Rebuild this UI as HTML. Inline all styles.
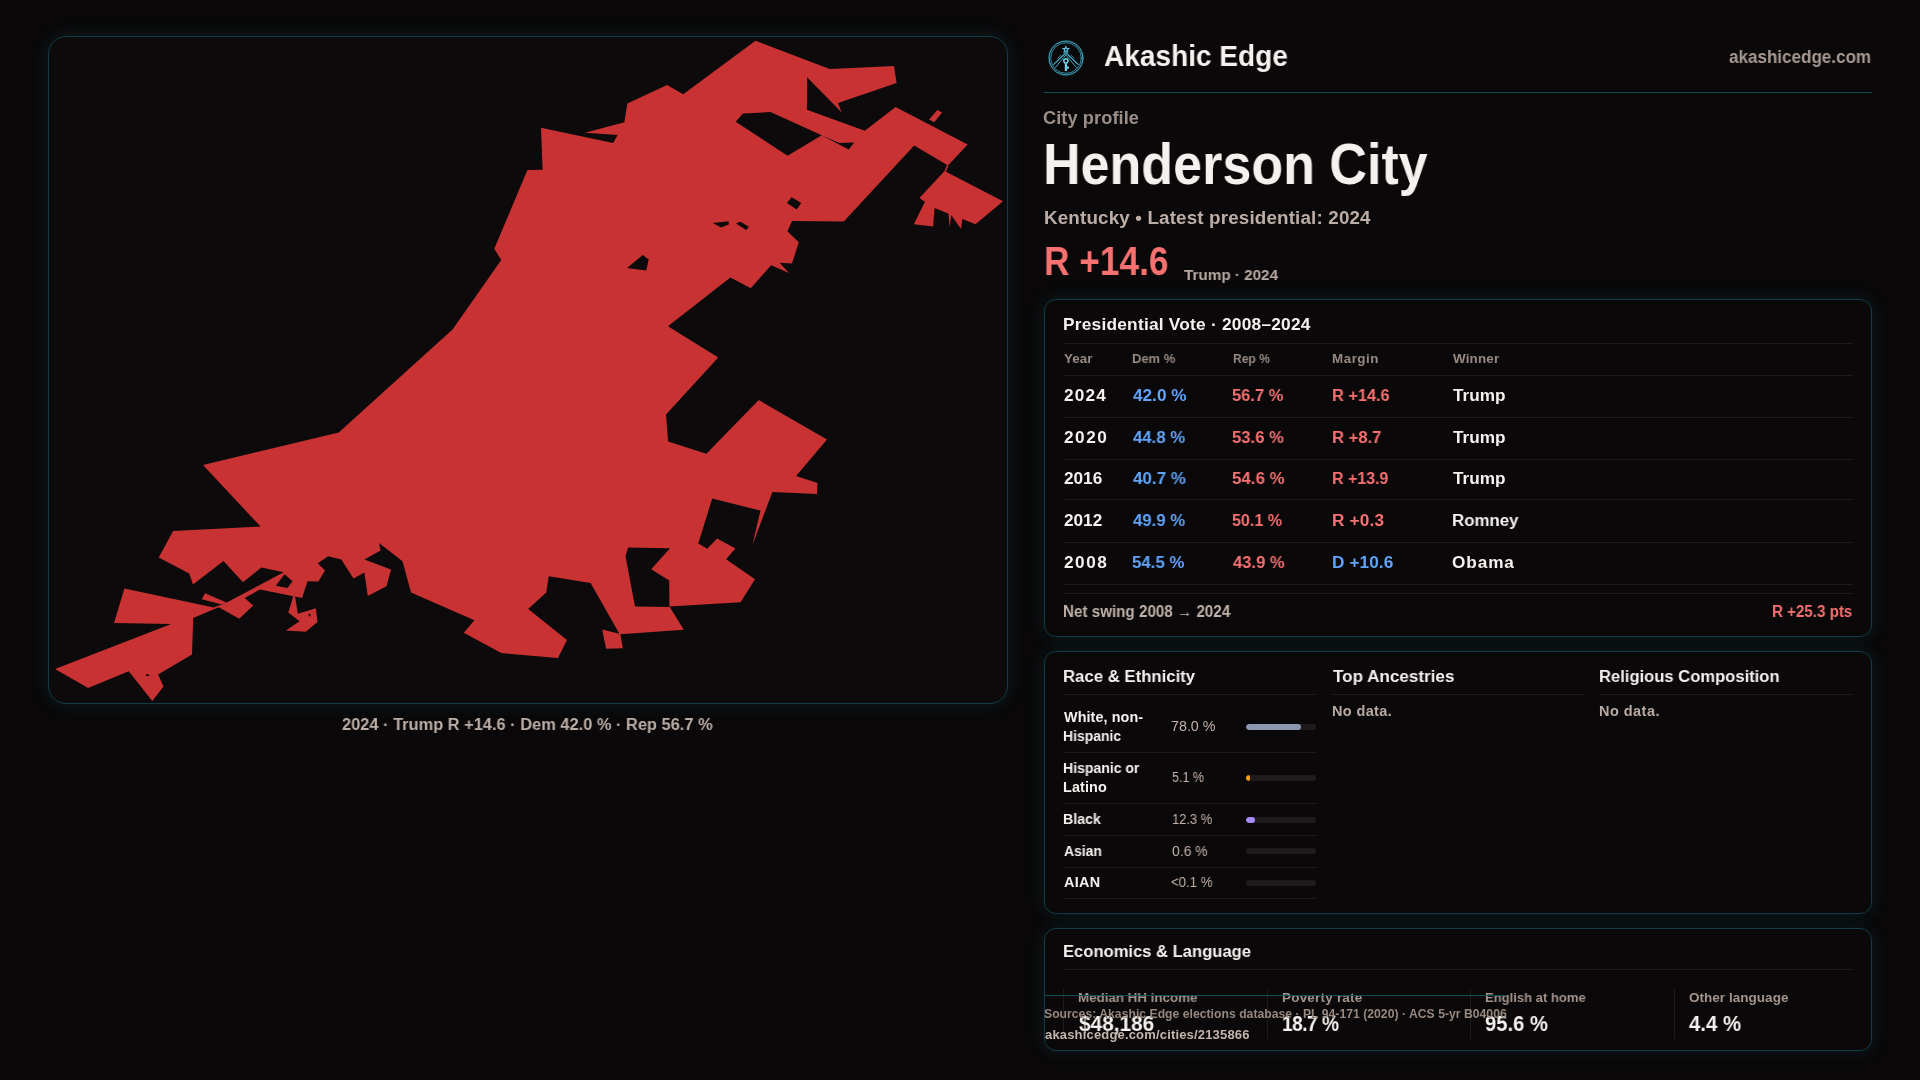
<!DOCTYPE html>
<html><head><meta charset="utf-8"><title>Henderson City — City profile</title>
<style>
html,body{margin:0;padding:0;background:#0a0809;}
body{width:1920px;height:1080px;position:relative;overflow:hidden;font-family:"Liberation Sans",sans-serif;}
.t{position:absolute;line-height:1;white-space:nowrap;transform-origin:0 0;will-change:transform;}
.l{position:absolute;height:1px;}
.card{position:absolute;box-sizing:border-box;border:1px solid #113c49;border-radius:12px;background:#0c0a0b;box-shadow:0 0 18px rgba(20,100,115,0.22);}
.bar{position:absolute;left:1246px;width:70px;height:6px;border-radius:3px;background:#1d1b1d;overflow:hidden;}
.bar i{display:block;height:6px;border-radius:3px;}
svg{position:absolute;left:0;top:0;}
</style></head><body>
<div class="card" style="left:48px;top:36px;width:960px;height:668px;border-radius:18px;"></div>
<div class="card" style="left:1044px;top:299px;width:828px;height:338px;background:#0a0809;"></div>
<div class="card" style="left:1044px;top:651px;width:828px;height:263px;background:#0a0809;"></div>
<div class="card" style="left:1044px;top:928px;width:828px;height:123px;background:#0a0809;"></div>
<svg width="1920" height="1080" viewBox="0 0 1920 1080">
<path fill="#c83232" fill-rule="evenodd" d="M755.5 40.75 L829.75 69 L894 66 L896.6 82.9 L838 103 L841.7 112.5 L807.1 77.3 L806.9 109.7 L864.8 130.8 L895.6 106.9 L967.7 144.4 L948 165.5 L914.2 145.6 L843.8 221.6 L792.1 221.1 L787.4 231.3 L798.8 242.3 L792 263.5 L779.6 262.7 L789 273 L771.2 265.2 L750.8 288.2 L730.4 277.5 L668 326.25 L718.25 357.5 L666 414.4 L668.1 441.4 L706.4 453.75 L758.75 400 L827 439.6 L796.1 475.9 L817.5 483.1 L817 493.9 L772.4 492 L752.4 545 L760.5 510.6 L712.2 498.5 L698.3 543.4 L707.2 548.7 L717.2 538.4 L735.4 548.5 L726.1 559.3 L755 579.3 L740.6 602.2 L669.4 606.5 L669.2 580.6 L651.2 569.3 L670 548.2 L628.2 547.4 L625.5 556.2 L635 606.5 L669.8 607.1 L683.8 629.8 L620.3 634.3 L622.9 648.3 L606.1 648.8 L602.2 629.4 L619.4 633.8 L590.6 582.9 L548.75 576.25 L546.25 592.5 L528.2 608.9 L567 640 L558 658 L501.25 653.1 L463.75 632.75 L474.4 620.25 L411 592.5 L402.5 561.25 L379 542.9 L380.6 550.6 L364.4 559.4 L391 569.4 L386.5 586.25 L367.75 595.9 L364.4 572.5 L353.5 578.5 L341.25 559.4 L328.1 556.25 L317.75 563.3 L325 570.5 L318.4 581.5 L307.5 581.25 L302.1 597.9 L260 589.6 L244.6 597.9 L253.3 605.4 L239.2 618.75 L218.75 607.2 L193.2 618 L192 654.4 L158.1 674.4 L163.5 686.5 L152.25 701 L128.75 671.25 L88.1 688.1 L55 669 L171.25 624 L114.1 622.9 L124.4 588.6 L213.75 607.5 L221.7 604.6 L226.7 602.5 L283.75 572.2 L261.25 567.6 L243 582.2 L223.5 561.1 L193 584.5 L189.2 573.4 L158.75 557.5 L173.1 531 L260.6 526.6 L203 465 L338.75 432.5 L452.5 329.5 L501.25 260 L494.25 248.75 L527.4 170.1 L542.6 169.7 L541 127.7 L613.1 143.1 L617.6 135 L585 132.8 L624.4 122.2 L627.3 103.4 L667.1 85 L683.2 94.3Z M735.7 121.8 L743 113.4 L770.5 112.1 L821.7 135.2 L787.6 155.7Z M821.9 135.4 L839.4 143.1 L854.2 142.6 L848.7 149.4Z M786.9 203 L791.6 197.3 L801.3 203 L796.7 209.5Z M712.9 223.1 L728.7 221.3 L728.8 224.4 L721 227.4Z M736 223.5 L740.3 221.7 L748.9 226.7 L746.2 230Z M627 268 L642.8 255 L648.75 259.5 L646.25 270.5Z M275.8 585.8 L284.6 574.3 L292.5 581.25 L287.5 587.9Z"/>
<path fill="#c83232" fill-rule="evenodd" d="M205 593.3 L226.7 602.5 L221.7 604.6 L201.8 599.2Z M293.3 596 L288.3 612.5 L299.6 621.25 L285.8 630.4 L305.8 631.7 L317.5 622.1 L315.8 608.3 L297.9 613.75 L295 596.3Z M929 119.6 L937.5 110 L942.1 112.4 L934.2 122.3Z M947 165 L948.5 165.7 L946 171.6 L944.6 170.9Z M944.6 170.9 L1003 201.2 L975.5 224.3 L962.4 219.1 L961 229.1 L951.2 215 L949.6 227.4 L948.6 213.7 L934.6 208 L933.1 226.5 L913.8 224.3 L925 201.8 L919.4 198Z"/>
<ellipse cx="309.6" cy="615" rx="0.9" ry="1.5" fill="#0c0a0b"/>
<ellipse cx="147.5" cy="675.2" rx="1.8" ry="0.9" fill="#0c0a0b"/>
<g fill="none" stroke="#43b4d0" stroke-linecap="round">
<circle cx="1066" cy="58" r="16.4" stroke-width="3.4" opacity="0.16"/>
<circle cx="1066" cy="58" r="16.9" stroke-width="1" opacity="0.95"/>
<circle cx="1066" cy="58" r="15.3" stroke-width="0.8" opacity="0.8"/>
<path d="M1065.9 52.8 L1053.7 64.4 M1065.9 52.8 L1078.1 64.4" stroke-width="1.2"/>
<path d="M1065.9 55 L1055.6 67.2 M1065.9 55 L1076.2 67.2" stroke-width="1" opacity="0.9"/>
<path d="M1060.7 55.2 L1057.6 58.3 M1071.1 55.2 L1074.2 58.3" stroke-width="0.9" opacity="0.7"/>
<circle cx="1065.9" cy="60.9" r="2.05" stroke-width="1.5" stroke="#6fd3e8"/>
<path d="M1065.9 63.4 L1065.9 71" stroke-width="2.2" stroke="#6fd3e8" stroke-linecap="butt"/>
<path d="M1066.9 67.6 L1068.9 67.6" stroke-width="2.4" stroke="#6fd3e8" stroke-linecap="butt"/>
</g>
<polygon points="1065.90,45.00 1067.02,47.96 1070.18,48.11 1067.71,50.09 1068.55,53.14 1065.90,51.40 1063.25,53.14 1064.09,50.09 1061.62,48.11 1064.78,47.96" fill="#55c4de"/>
<circle cx="1065.9" cy="49.7" r="1" fill="#0a0809"/>
</svg>
<div class="l" style="left:1044px;top:92px;width:828px;background:#0f4856"></div>
<div class="l" style="left:1063px;top:343px;width:790px;background:#1e1b1d"></div>
<div class="l" style="left:1063px;top:375px;width:790px;background:#1e1b1d"></div>
<div class="l" style="left:1063px;top:417px;width:790px;background:#1e1b1d"></div>
<div class="l" style="left:1063px;top:459px;width:790px;background:#1e1b1d"></div>
<div class="l" style="left:1063px;top:499px;width:790px;background:#1e1b1d"></div>
<div class="l" style="left:1063px;top:542px;width:790px;background:#1e1b1d"></div>
<div class="l" style="left:1063px;top:584px;width:790px;background:#1e1b1d"></div>
<div class="l" style="left:1063px;top:593px;width:790px;background:#1e1b1d"></div>
<div class="l" style="left:1063px;top:694px;width:253px;background:#1e1b1d"></div>
<div class="l" style="left:1332px;top:694px;width:252px;background:#1e1b1d"></div>
<div class="l" style="left:1600px;top:694px;width:253px;background:#1e1b1d"></div>
<div class="l" style="left:1063px;top:752px;width:253px;background:#1e1b1d"></div>
<div class="l" style="left:1063px;top:803px;width:253px;background:#1e1b1d"></div>
<div class="l" style="left:1063px;top:835px;width:253px;background:#1e1b1d"></div>
<div class="l" style="left:1063px;top:867px;width:253px;background:#1e1b1d"></div>
<div class="l" style="left:1063px;top:898px;width:253px;background:#1e1b1d"></div>
<div class="l" style="left:1063px;top:969px;width:790px;background:#1e1b1d"></div>
<div class="l" style="left:1063px;top:989px;width:1px;height:50px;background:#1e1b1d"></div>
<div class="l" style="left:1267px;top:989px;width:1px;height:50px;background:#1e1b1d"></div>
<div class="l" style="left:1470px;top:989px;width:1px;height:50px;background:#1e1b1d"></div>
<div class="l" style="left:1674px;top:989px;width:1px;height:50px;background:#1e1b1d"></div>
<div class="bar" style="top:724px"><i style="width:54.60px;background:#8c98af"></i></div>
<div class="bar" style="top:775px"><i style="width:3.57px;background:#f59e0b"></i></div>
<div class="bar" style="top:816.5px"><i style="width:8.61px;background:#a78bfa"></i></div>
<div class="bar" style="top:848px"><i style="width:0.00px;background:#94a3b8"></i></div>
<div class="bar" style="top:879.5px"><i style="width:0.00px;background:#94a3b8"></i></div>
<div class="t" style="left:1103.97px;top:40.80px;font-size:30.3px;font-weight:700;color:#f4f1ef;transform:scaleX(0.9259);">Akashic Edge</div>
<div class="t" style="left:1729.20px;top:49.34px;font-size:17.5px;font-weight:700;color:#a89a93;transform:scaleX(0.9738);">akashicedge.com</div>
<div class="t" style="left:1043.40px;top:108.54px;font-size:18.2px;font-weight:700;color:#9c8f89;letter-spacing:0.091px;">City profile</div>
<div class="t" style="left:1043.38px;top:135.79px;font-size:57.6px;font-weight:700;color:#f4f1ef;transform:scaleX(0.9038);">Henderson City</div>
<div class="t" style="left:1044.00px;top:208.54px;font-size:18.8px;font-weight:700;color:#bcaea7;letter-spacing:0.166px;">Kentucky • Latest presidential: 2024</div>
<div class="t" style="left:1043.87px;top:241.54px;font-size:40.3px;font-weight:700;color:#f87171;transform:scaleX(0.8754);">R +14.6</div>
<div class="t" style="left:1183.90px;top:267.21px;font-size:15.4px;font-weight:700;color:#b8aaa3;transform:scaleX(0.9905);">Trump · 2024</div>
<div class="t" style="left:1062.60px;top:316.01px;font-size:17.3px;font-weight:700;color:#f4f1ef;letter-spacing:0.236px;">Presidential Vote · 2008–2024</div>
<div class="t" style="left:1063.60px;top:352.21px;font-size:13.4px;font-weight:700;color:#978a84;letter-spacing:0.067px;">Year</div>
<div class="t" style="left:1132.43px;top:352.21px;font-size:13.4px;font-weight:700;color:#978a84;transform:scaleX(0.9674);">Dem %</div>
<div class="t" style="left:1232.50px;top:352.21px;font-size:13.4px;font-weight:700;color:#978a84;transform:scaleX(0.9025);">Rep %</div>
<div class="t" style="left:1332.40px;top:352.21px;font-size:13.4px;font-weight:700;color:#978a84;letter-spacing:0.520px;">Margin</div>
<div class="t" style="left:1453.40px;top:352.21px;font-size:13.4px;font-weight:700;color:#978a84;letter-spacing:0.170px;">Winner</div>
<div class="t" style="left:1063.60px;top:387.39px;font-size:17.2px;font-weight:700;color:#f4f1ef;letter-spacing:1.167px;">2024</div>
<div class="t" style="left:1133.40px;top:387.39px;font-size:17.2px;font-weight:700;color:#60a5fa;transform:scaleX(0.9972);">42.0 %</div>
<div class="t" style="left:1232.44px;top:387.39px;font-size:17.2px;font-weight:700;color:#f87171;transform:scaleX(0.9587);">56.7 %</div>
<div class="t" style="left:1332.45px;top:387.39px;font-size:17.2px;font-weight:700;color:#f87171;transform:scaleX(0.9508);">R +14.6</div>
<div class="t" style="left:1453.40px;top:387.39px;font-size:17.2px;font-weight:700;color:#f4f1ef;letter-spacing:0.025px;">Trump</div>
<div class="t" style="left:1063.60px;top:429.19px;font-size:17.2px;font-weight:700;color:#f4f1ef;letter-spacing:1.550px;">2020</div>
<div class="t" style="left:1133.40px;top:429.19px;font-size:17.2px;font-weight:700;color:#60a5fa;transform:scaleX(0.9736);">44.8 %</div>
<div class="t" style="left:1232.43px;top:429.19px;font-size:17.2px;font-weight:700;color:#f87171;transform:scaleX(0.9683);">53.6 %</div>
<div class="t" style="left:1332.43px;top:429.19px;font-size:17.2px;font-weight:700;color:#f87171;transform:scaleX(0.9670);">R +8.7</div>
<div class="t" style="left:1453.40px;top:429.19px;font-size:17.2px;font-weight:700;color:#f4f1ef;letter-spacing:0.025px;">Trump</div>
<div class="t" style="left:1063.60px;top:469.99px;font-size:17.2px;font-weight:700;color:#f4f1ef;transform:scaleX(0.9908);">2016</div>
<div class="t" style="left:1133.40px;top:469.99px;font-size:17.2px;font-weight:700;color:#60a5fa;transform:scaleX(0.9877);">40.7 %</div>
<div class="t" style="left:1232.42px;top:469.99px;font-size:17.2px;font-weight:700;color:#f87171;transform:scaleX(0.9827);">54.6 %</div>
<div class="t" style="left:1332.47px;top:469.99px;font-size:17.2px;font-weight:700;color:#f87171;transform:scaleX(0.9297);">R +13.9</div>
<div class="t" style="left:1453.40px;top:469.99px;font-size:17.2px;font-weight:700;color:#f4f1ef;letter-spacing:0.025px;">Trump</div>
<div class="t" style="left:1063.60px;top:511.99px;font-size:17.2px;font-weight:700;color:#f4f1ef;transform:scaleX(0.9908);">2012</div>
<div class="t" style="left:1133.40px;top:511.99px;font-size:17.2px;font-weight:700;color:#60a5fa;transform:scaleX(0.9736);">49.9 %</div>
<div class="t" style="left:1232.47px;top:511.99px;font-size:17.2px;font-weight:700;color:#f87171;transform:scaleX(0.9346);">50.1 %</div>
<div class="t" style="left:1332.40px;top:511.99px;font-size:17.2px;font-weight:700;color:#f87171;letter-spacing:0.170px;">R +0.3</div>
<div class="t" style="left:1452.42px;top:511.99px;font-size:17.2px;font-weight:700;color:#f4f1ef;transform:scaleX(0.9791);">Romney</div>
<div class="t" style="left:1063.60px;top:554.19px;font-size:17.2px;font-weight:700;color:#f4f1ef;letter-spacing:1.550px;">2008</div>
<div class="t" style="left:1132.42px;top:554.19px;font-size:17.2px;font-weight:700;color:#60a5fa;transform:scaleX(0.9779);">54.5 %</div>
<div class="t" style="left:1233.40px;top:554.19px;font-size:17.2px;font-weight:700;color:#f87171;transform:scaleX(0.9642);">43.9 %</div>
<div class="t" style="left:1332.40px;top:554.19px;font-size:17.2px;font-weight:700;color:#60a5fa;letter-spacing:0.100px;">D +10.6</div>
<div class="t" style="left:1452.40px;top:554.19px;font-size:17.2px;font-weight:700;color:#f4f1ef;letter-spacing:0.900px;">Obama</div>
<div class="t" style="left:1062.93px;top:603.74px;font-size:15.6px;font-weight:700;color:#c0b2aa;transform:scaleX(0.9743);">Net swing 2008 → 2024</div>
<div class="t" style="left:1772.28px;top:604.14px;font-size:15.6px;font-weight:700;color:#f87171;transform:scaleX(0.9691);">R +25.3 pts</div>
<div class="t" style="left:1062.74px;top:668.32px;font-size:17.4px;font-weight:700;color:#f4f1ef;transform:scaleX(0.9625);">Race &amp; Ethnicity</div>
<div class="t" style="left:1332.50px;top:668.32px;font-size:17.4px;font-weight:700;color:#f4f1ef;transform:scaleX(0.9817);">Top Ancestries</div>
<div class="t" style="left:1599.05px;top:668.32px;font-size:17.4px;font-weight:700;color:#f4f1ef;transform:scaleX(0.9535);">Religious Composition</div>
<div class="t" style="left:1331.50px;top:703.78px;font-size:14.5px;font-weight:700;color:#b8aaa3;letter-spacing:0.357px;">No data.</div>
<div class="t" style="left:1599.00px;top:703.78px;font-size:14.5px;font-weight:700;color:#b8aaa3;letter-spacing:0.464px;">No data.</div>
<div class="t" style="left:1063.70px;top:709.96px;font-size:14.4px;font-weight:700;color:#f4f1ef;letter-spacing:0.080px;">White, non-</div>
<div class="t" style="left:1062.73px;top:728.76px;font-size:14.4px;font-weight:700;color:#f4f1ef;transform:scaleX(0.9678);">Hispanic</div>
<div class="t" style="left:1171.40px;top:718.75px;font-size:14.3px;font-weight:400;color:#c3b2aa;transform:scaleX(0.9977);">78.0 %</div>
<div class="t" style="left:1062.73px;top:761.36px;font-size:14.4px;font-weight:700;color:#f4f1ef;transform:scaleX(0.9747);">Hispanic or</div>
<div class="t" style="left:1062.70px;top:779.86px;font-size:14.4px;font-weight:700;color:#f4f1ef;letter-spacing:0.110px;">Latino</div>
<div class="t" style="left:1171.53px;top:770.20px;font-size:14.3px;font-weight:400;color:#c3b2aa;transform:scaleX(0.8743);">5.1 %</div>
<div class="t" style="left:1062.72px;top:812.11px;font-size:14.4px;font-weight:700;color:#f4f1ef;transform:scaleX(0.9811);">Black</div>
<div class="t" style="left:1171.50px;top:812.20px;font-size:14.3px;font-weight:400;color:#c3b2aa;transform:scaleX(0.9035);">12.3 %</div>
<div class="t" style="left:1063.70px;top:843.86px;font-size:14.4px;font-weight:700;color:#f4f1ef;transform:scaleX(0.9628);">Asian</div>
<div class="t" style="left:1172.40px;top:843.95px;font-size:14.3px;font-weight:400;color:#c3b2aa;transform:scaleX(0.9750);">0.6 %</div>
<div class="t" style="left:1063.70px;top:875.11px;font-size:14.4px;font-weight:700;color:#f4f1ef;letter-spacing:0.350px;">AIAN</div>
<div class="t" style="left:1171.48px;top:875.20px;font-size:14.3px;font-weight:400;color:#c3b2aa;transform:scaleX(0.9227);">&lt;0.1 %</div>
<div class="t" style="left:1062.65px;top:943.32px;font-size:17.4px;font-weight:700;color:#f4f1ef;transform:scaleX(0.9536);">Economics &amp; Language</div>
<div class="t" style="left:1077.76px;top:991.02px;font-size:13.5px;font-weight:700;color:#a3948c;transform:scaleX(0.9887);">Median HH income</div>
<div class="t" style="left:1079.00px;top:1012.86px;font-size:22.2px;font-weight:700;color:#f4f1ef;transform:scaleX(0.9380);">$48,186</div>
<div class="t" style="left:1281.50px;top:991.02px;font-size:13.5px;font-weight:700;color:#a3948c;letter-spacing:0.205px;">Poverty rate</div>
<div class="t" style="left:1282.39px;top:1012.86px;font-size:22.2px;font-weight:700;color:#f4f1ef;letter-spacing:-0.577px;transform:scaleX(0.8600);">18.7 %</div>
<div class="t" style="left:1484.53px;top:991.02px;font-size:13.5px;font-weight:700;color:#a3948c;transform:scaleX(0.9660);">English at home</div>
<div class="t" style="left:1484.59px;top:1012.86px;font-size:22.2px;font-weight:700;color:#f4f1ef;transform:scaleX(0.9118);">95.6 %</div>
<div class="t" style="left:1689.20px;top:991.02px;font-size:13.5px;font-weight:700;color:#a3948c;letter-spacing:0.031px;">Other language</div>
<div class="t" style="left:1689.20px;top:1012.86px;font-size:22.2px;font-weight:700;color:#f4f1ef;transform:scaleX(0.9179);">4.4 %</div>
<div class="t" style="left:1044.00px;top:1007.97px;font-size:12.2px;font-weight:700;color:#96887f;letter-spacing:0.016px;">Sources: Akashic Edge elections database · PL 94-171 (2020) · ACS 5-yr B04006</div>
<div class="t" style="left:1045.00px;top:1027.65px;font-size:13px;font-weight:700;color:#c4b6ae;letter-spacing:0.172px;">akashicedge.com/cities/2135866</div>
<div class="t" style="left:342.31px;top:715.82px;font-size:17.4px;font-weight:700;color:#bcaea7;transform:scaleX(0.9432);">2024 · Trump R +14.6 · Dem 42.0 % · Rep 56.7 %</div>
<div class="l" style="left:1044px;top:995px;width:462px;background:#0f4f5e"></div>
</body></html>
